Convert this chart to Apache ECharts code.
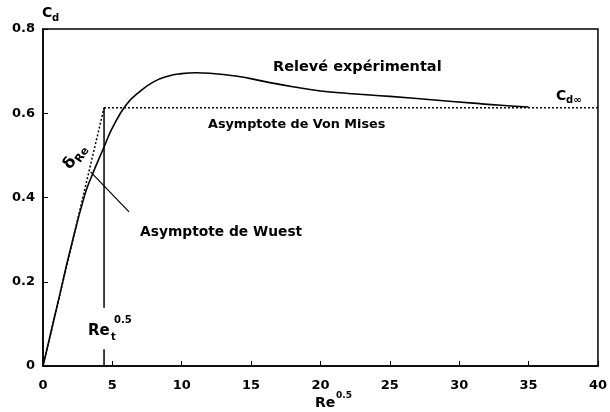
<!DOCTYPE html>
<html>
<head>
<meta charset="UTF-8">
<title>Cd</title>
<script src="https://cdn.jsdelivr.net/npm/echarts@6/dist/echarts.min.js"></script>
<style>
  html, body { margin: 0; padding: 0; background: #fff; }
  #main { width: 610px; height: 412px; }
</style>
</head>
<body>
<div id="main"></div>
<script>
// valeurs
var reT = 4.4;          // Re_t^0.5
var cdInf = 0.613;      // Cd infini (asymptote de Von Mises)
var xMax = 40;

var reExp = [0, 1, 2, 3, 3.5, 4.4, 5, 6, 7, 8, 9, 10, 11, 12, 14, 16, 18, 20, 22, 25, 28, 31, 33, 35];
var cdExp = [0, 0.14, 0.28, 0.405, 0.45, 0.52, 0.565, 0.62, 0.652, 0.675, 0.688, 0.694, 0.696, 0.695, 0.688, 0.675, 0.663, 0.653, 0.647, 0.64, 0.632, 0.624, 0.619, 0.615];

// trait qui relie l'etiquette Wuest a la courbe
var pointerX = [3.43, 6.2];
var pointerY = [0.461, 0.366];

function pairs(xs, ys) {
    var out = [];
    for (var i = 0; i < xs.length; i++) out.push([xs[i], ys[i]]);
    return out;
}

var txt = { fontFamily: 'DejaVu Sans', fontWeight: 'bold', fontSize: 12, fill: '#000' };
function label(x, y, s, size) {
    var st = Object.assign({}, txt, { text: s });
    if (size) st.fontSize = size;
    return { type: 'text', x: x, y: y, style: st, z: 100 };
}

var myChart = echarts.init(document.getElementById('main'));

var option = {
    animation: false,
    backgroundColor: '#fff',
    grid: { left: 43, right: 8, top: 29, bottom: 46, show: true, borderColor: '#000', borderWidth: 1.5 },
    xAxis: {
        type: 'value', min: 0, max: xMax, interval: 5,
        axisLine: { onZero: false, lineStyle: { color: '#000', width: 1.5 } },
        axisTick: { inside: true, length: 5, lineStyle: { color: '#000' } },
        axisLabel: { color: '#000', fontFamily: 'DejaVu Sans', fontWeight: 'bold', fontSize: 13, margin: 13 },
        splitLine: { show: false }
    },
    yAxis: {
        type: 'value', min: 0, max: 0.8, interval: 0.2,
        axisLine: { show: true, lineStyle: { color: '#000', width: 1.5 } },
        axisTick: { show: true, inside: true, length: 5, lineStyle: { color: '#000' } },
        axisLabel: { color: '#000', fontFamily: 'DejaVu Sans', fontWeight: 'bold', fontSize: 13, margin: 8 },
        splitLine: { show: false }
    },
    series: [
        {
            name: 'Relevé expérimental', type: 'line', smooth: true, symbol: 'none',
            lineStyle: { color: '#000', width: 1.6 },
            data: pairs(reExp, cdExp)
        },
        {
            name: 'Von Mises', type: 'line', symbol: 'none',
            lineStyle: { color: '#000', width: 1.5, type: [2, 2] },
            data: [[reT, cdInf], [xMax, cdInf]]
        },
        {
            name: 'Wuest', type: 'line', symbol: 'none',
            lineStyle: { color: '#000', width: 1.5, type: [2, 2] },
            data: [[0, 0], [reT, cdInf]]
        },
        {
            name: 'Re_t haut', type: 'line', symbol: 'none',
            lineStyle: { color: '#000', width: 1.5 },
            data: [[reT, cdInf], [reT, 0.138]]
        },
        {
            name: 'Re_t bas', type: 'line', symbol: 'none',
            lineStyle: { color: '#000', width: 1.5 },
            data: [[reT, 0], [reT, 0.04]]
        },
        {
            name: 'renvoi', type: 'line', symbol: 'none',
            lineStyle: { color: '#000', width: 1.2 },
            data: pairs(pointerX, pointerY)
        }
    ],
    graphic: [
        label(42, 6, 'C', 14),
        label(52, 13, 'd', 10),
        label(273, 60, 'Relevé expérimental', 14.5),
        label(208, 118, 'Asymptote de Von Mises', 12.8),
        label(140, 225, 'Asymptote de Wuest', 13.8),
        label(556, 89, 'C', 14),
        label(566, 95, 'd∞', 10),
        label(88, 324, 'Re', 15),
        label(111, 332, 't', 10),
        label(114, 315, '0.5', 10),
        label(315, 396, 'Re', 14),
        label(336, 391, '0.5', 9),
        {
            type: 'group', x: 77, y: 155, rotation: Math.PI * 0.31, z: 100,
            children: [
                label(-16, -9, 'δ', 16),
                label(-5, -1, 'Re', 11)
            ]
        }
    ]
};

myChart.setOption(option);
</script>
</body>
</html>
